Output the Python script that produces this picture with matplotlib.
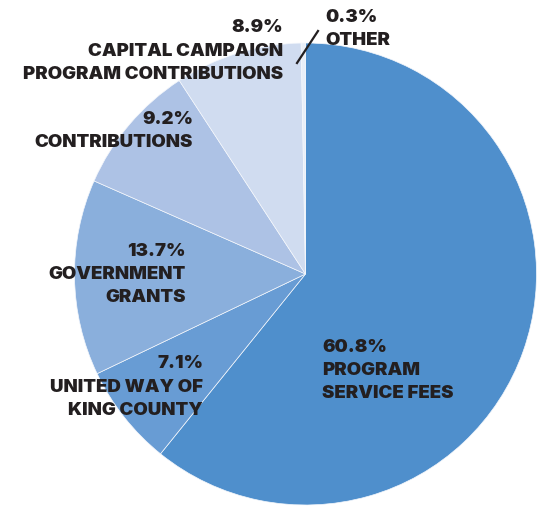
import matplotlib
matplotlib.use("Agg")
import matplotlib.pyplot as plt

categories = ["PROGRAM\nSERVICE FEES", "UNITED WAY OF\nKING COUNTY", "GOVERNMENT\nGRANTS",
              "CONTRIBUTIONS", "CAPITAL CAMPAIGN\nPROGRAM CONTRIBUTIONS", "OTHER"]
values = [60.8, 7.1, 13.7, 9.2, 8.9, 0.3]
pct_labels = ["60.8%", "7.1%", "13.7%", "9.2%", "8.9%", "0.3%"]
colors = ["#4f8fcc", "#689cd4", "#8aafdc", "#adc2e5", "#d0dcf0", "#e9eff8"]

W, H = 543, 508
fig = plt.figure(figsize=(W / 100, H / 100), dpi=100)
ax = fig.add_axes([0, 0, 1, 1])

cx, cy, r = 305.5, H - 274, 231
ax.pie(values, colors=colors, startangle=90, counterclock=False, center=(cx, cy),
       radius=r, wedgeprops=dict(linewidth=0.5, edgecolor="#f4f7fc"), frame=True)
ax.set_xlim(0, W)
ax.set_ylim(0, H)
ax.set_aspect("equal")
ax.axis("off")

font = dict(family=["Inter", "DejaVu Sans"], fontweight=900, fontsize=13.4, color="#231f20")

# (x, y of first line, ha) in image pixel coords
label_pos = [(322, 347, "left"), (203, 364, "right"), (186, 251, "right"),
             (193, 119, "right"), (283, 28, "right"), (325, 17, "left")]
line_gap = 23.3
for cat, pct, (x, y, ha) in zip(categories, pct_labels, label_pos):
    lines = [pct] + cat.split("\n")
    for i, t in enumerate(lines):
        ax.text(x, H - (y + i * line_gap), t, ha=ha, va="center", **font)

ax.plot([297, 318], [H - 63, H - 31], color="#231f20", lw=1.6)

fig.savefig("out.png", dpi=100)
